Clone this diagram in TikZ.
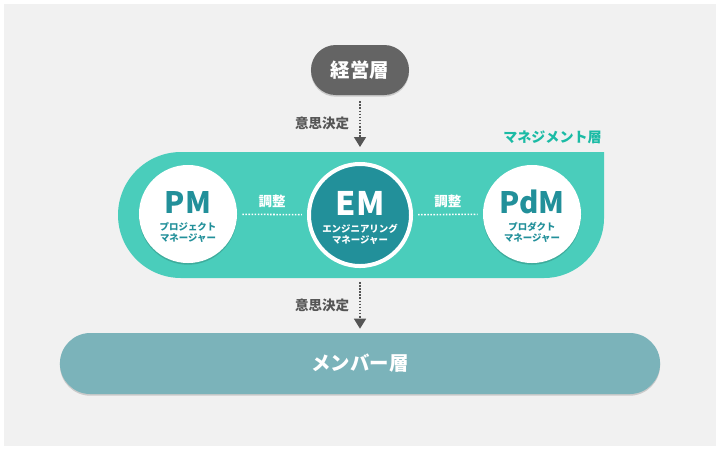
\documentclass[tikz,border=0pt]{standalone}
\usepackage{fontspec}
\setmainfont{Noto Sans CJK JP}
\usetikzlibrary{arrows.meta,shadows}
\definecolor{bggray}{HTML}{F1F1F1}
\definecolor{execgray}{HTML}{646464}
\definecolor{mint}{HTML}{4ACDBB}
\definecolor{mintdark}{HTML}{1BBBA5}
\definecolor{deepteal}{HTML}{22909A}
\definecolor{slateteal}{HTML}{7BB3BA}
\definecolor{labelgray}{HTML}{555555}
\tikzset{
  softshadow/.style={drop shadow={shadow xshift=0pt,shadow yshift=-1.2pt,opacity=0.16,fill=black}},
  pill/.style={rectangle,rounded corners=0.62cm,inner sep=0pt,text=white,font=\bfseries\fontsize{13.8}{16}\selectfont,softshadow},
  rolecircle/.style={circle,fill=white,minimum size=2.45cm,inner sep=0pt,align=center,text=deepteal,font=\bfseries\fontsize{6.7}{7.8}\selectfont,softshadow},
  decide/.style={-{Triangle[length=0.25cm,width=0.3cm]},labelgray,line width=1.1pt,dash pattern=on 1.1pt off 1.1pt},
  decidelabel/.style={midway,left=0.25cm,inner sep=0pt,text=labelgray,font=\bfseries\fontsize{9.6}{11}\selectfont},
  linkdots/.style={white,line width=1.1pt,dash pattern=on 1.1pt off 1.1pt,shorten <=0.125cm,shorten >=0.125cm},
  linklabel/.style={midway,above=0.15cm,inner sep=0pt,text=white,font=\bfseries\fontsize{9.6}{11}\selectfont}
}
\begin{document}
\begin{tikzpicture}[x=0.025cm,y=0.025cm]
  \useasboundingbox (0,0) rectangle (720,-450);
  \fill[white] (0,0) rectangle (720,-450);
  \fill[bggray] (4,-4) rectangle (716,-446);
  \fill[mint] (604,-152) -- (181,-152) arc[start angle=90,end angle=270,radius=63]
    -- (544,-278) arc[start angle=270,end angle=360,radius=60] -- cycle;
  \coordinate (mtop) at (360,-152);
  \coordinate (mbot) at (360,-278);
  \node[anchor=east,inner sep=0pt,text=mintdark,font=\bfseries\fontsize{10}{12}\selectfont] (mlabel) at (602,-137) {マネジメント層};
  \node[pill,fill=execgray,minimum width=2.45cm,minimum height=1.25cm] (exec) at (360,-70) {経営層};
  \node[pill,fill=slateteal,minimum width=15cm,minimum height=1.525cm,rounded corners=0.76cm] (member) at (360,-363.5) {メンバー層};
  \node[rolecircle] (pm) at (188,-214) {\rule{0pt}{20pt}{\fontsize{21}{21}\selectfont PM}\\[4pt]プロジェクト\\マネージャー};
  \node[rolecircle,fill=deepteal,draw=white,line width=0.1cm,minimum size=2.55cm,text=white] (em) at (360,-215) {\rule{0pt}{21pt}{\fontsize{23}{23}\selectfont EM}\\[4pt]エンジニアリング\\マネージャー};
  \node[rolecircle] (pdm) at (532,-214) {\rule{0pt}{20pt}{\fontsize{21}{21}\selectfont PdM}\\[4pt]プロダクト\\マネージャー};
  \draw[linkdots] (pm) -- (em) node[linklabel] (adj1) {調整};
  \draw[linkdots] (em) -- (pdm) node[linklabel] (adj2) {調整};
  \draw[decide,shorten <=0.15cm,shorten >=0.125cm] (exec) -- (mtop) node[decidelabel] (dec1) {意思決定};
  \draw[decide,shorten <=0.1cm,shorten >=0.1cm] (mbot) -- (member) node[decidelabel] (dec2) {意思決定};
\end{tikzpicture}
\end{document}
